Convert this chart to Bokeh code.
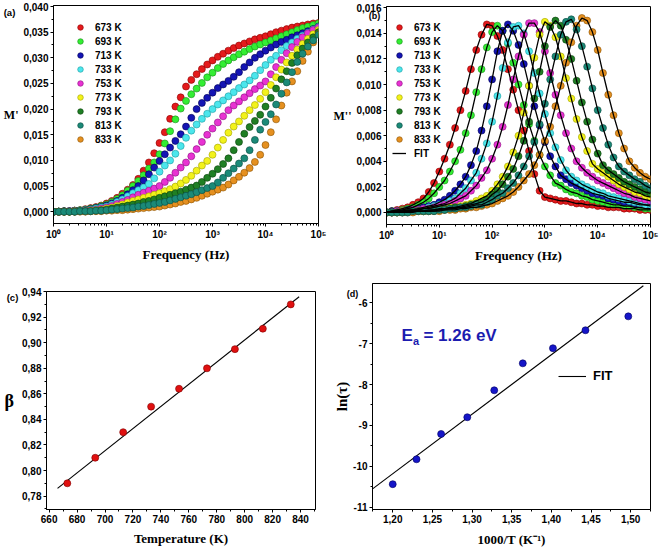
from bokeh.plotting import figure
from bokeh.models import (FixedTicker, CustomJSTickFormatter, Legend, LegendItem,
                          Label, Range1d)
from bokeh.layouts import row, column
from bokeh.embed import file_html
from bokeh.resources import INLINE

# ---------------- data ----------------
temp_labels = ["673 K", "693 K", "713 K", "733 K", "753 K", "773 K", "793 K", "813 K", "833 K"]

freq = [1, 1.259, 1.585, 1.995, 2.512, 3.162, 3.981, 5.012, 6.31, 7.943,
        10, 12.59, 15.85, 19.95, 25.12, 31.62, 39.81, 50.12, 63.1, 79.43,
        100, 125.9, 158.5, 199.5, 251.2, 316.2, 398.1, 501.2, 631, 794.3,
        1000, 1259, 1585, 1995, 2512, 3162, 3981, 5012, 6310, 7943,
        10000, 12589, 15849, 19953, 25119, 31623, 39811, 50119, 63096, 79433,
        100000]

# M' (panel a)
m1_673 = [0.0000, 0.0000, 0.0001, 0.0001, 0.0002, 0.0003, 0.0005, 0.0007, 0.0009, 0.0012,
          0.0016, 0.0021, 0.0027, 0.0035, 0.0043, 0.0052, 0.0064, 0.0080, 0.0096, 0.0114,
          0.0134, 0.0155, 0.0181, 0.0205, 0.0223, 0.0244, 0.0257, 0.0268, 0.0278, 0.0287,
          0.0295, 0.0302, 0.0308, 0.0314, 0.0319, 0.0324, 0.0328, 0.0332, 0.0336, 0.0339,
          0.0342, 0.0346, 0.0350, 0.0353, 0.0356, 0.0359, 0.0361, 0.0363, 0.0365, 0.0367,
          0.0368]
m1_693 = [0.0000, 0.0000, 0.0001, 0.0001, 0.0002, 0.0003, 0.0004, 0.0006, 0.0008, 0.0011,
          0.0014, 0.0019, 0.0025, 0.0032, 0.0041, 0.0050, 0.0060, 0.0071, 0.0084, 0.0096,
          0.0112, 0.0133, 0.0157, 0.0180, 0.0201, 0.0216, 0.0229, 0.0240, 0.0251, 0.0262,
          0.0271, 0.0280, 0.0288, 0.0295, 0.0301, 0.0307, 0.0312, 0.0317, 0.0322, 0.0326,
          0.0330, 0.0334, 0.0338, 0.0342, 0.0346, 0.0350, 0.0354, 0.0358, 0.0361, 0.0364,
          0.0367]
m1_713 = [0.0000, 0.0000, 0.0001, 0.0001, 0.0002, 0.0002, 0.0003, 0.0005, 0.0007, 0.0009,
          0.0012, 0.0016, 0.0021, 0.0027, 0.0034, 0.0042, 0.0050, 0.0061, 0.0073, 0.0086,
          0.0099, 0.0112, 0.0125, 0.0138, 0.0151, 0.0166, 0.0183, 0.0200, 0.0212, 0.0222,
          0.0232, 0.0241, 0.0248, 0.0255, 0.0263, 0.0272, 0.0282, 0.0291, 0.0300, 0.0307,
          0.0314, 0.0320, 0.0326, 0.0331, 0.0335, 0.0340, 0.0344, 0.0348, 0.0352, 0.0356,
          0.0361]
m1_733 = [0.0000, 0.0000, 0.0000, 0.0001, 0.0001, 0.0002, 0.0003, 0.0004, 0.0006, 0.0008,
          0.0010, 0.0014, 0.0019, 0.0024, 0.0030, 0.0036, 0.0042, 0.0047, 0.0054, 0.0065,
          0.0078, 0.0090, 0.0100, 0.0113, 0.0128, 0.0144, 0.0158, 0.0170, 0.0181, 0.0191,
          0.0200, 0.0209, 0.0217, 0.0225, 0.0233, 0.0241, 0.0248, 0.0256, 0.0265, 0.0276,
          0.0286, 0.0296, 0.0304, 0.0315, 0.0323, 0.0330, 0.0337, 0.0343, 0.0349, 0.0355,
          0.0360]
m1_753 = [0.0000, 0.0000, 0.0000, 0.0001, 0.0001, 0.0001, 0.0002, 0.0003, 0.0004, 0.0006,
          0.0008, 0.0011, 0.0015, 0.0019, 0.0023, 0.0028, 0.0033, 0.0037, 0.0041, 0.0045,
          0.0050, 0.0058, 0.0066, 0.0076, 0.0086, 0.0096, 0.0108, 0.0122, 0.0136, 0.0150,
          0.0162, 0.0174, 0.0186, 0.0198, 0.0207, 0.0215, 0.0223, 0.0231, 0.0239, 0.0246,
          0.0254, 0.0268, 0.0282, 0.0296, 0.0309, 0.0321, 0.0331, 0.0340, 0.0348, 0.0354,
          0.0359]
m1_773 = [0.0000, 0.0000, 0.0000, 0.0000, 0.0001, 0.0001, 0.0001, 0.0002, 0.0003, 0.0004,
          0.0006, 0.0008, 0.0011, 0.0014, 0.0018, 0.0021, 0.0024, 0.0027, 0.0030, 0.0033,
          0.0036, 0.0040, 0.0044, 0.0049, 0.0055, 0.0062, 0.0070, 0.0080, 0.0090, 0.0099,
          0.0111, 0.0125, 0.0140, 0.0154, 0.0166, 0.0176, 0.0187, 0.0198, 0.0208, 0.0220,
          0.0233, 0.0247, 0.0262, 0.0277, 0.0291, 0.0304, 0.0316, 0.0327, 0.0337, 0.0346,
          0.0354]
m1_793 = [0.0000, 0.0000, 0.0000, 0.0000, 0.0000, 0.0001, 0.0001, 0.0001, 0.0002, 0.0003,
          0.0004, 0.0006, 0.0008, 0.0010, 0.0012, 0.0014, 0.0016, 0.0019, 0.0021, 0.0024,
          0.0027, 0.0030, 0.0033, 0.0036, 0.0039, 0.0043, 0.0047, 0.0051, 0.0058, 0.0066,
          0.0074, 0.0083, 0.0093, 0.0104, 0.0120, 0.0136, 0.0152, 0.0165, 0.0177, 0.0189,
          0.0205, 0.0222, 0.0240, 0.0258, 0.0274, 0.0290, 0.0305, 0.0318, 0.0330, 0.0340,
          0.0350]
m1_813 = [0.0000, 0.0000, 0.0000, 0.0000, 0.0000, 0.0001, 0.0001, 0.0001, 0.0002, 0.0002,
          0.0003, 0.0004, 0.0005, 0.0006, 0.0007, 0.0008, 0.0010, 0.0011, 0.0013, 0.0015,
          0.0017, 0.0019, 0.0022, 0.0025, 0.0028, 0.0031, 0.0034, 0.0038, 0.0042, 0.0046,
          0.0050, 0.0057, 0.0066, 0.0075, 0.0084, 0.0094, 0.0104, 0.0120, 0.0140, 0.0160,
          0.0175, 0.0190, 0.0209, 0.0230, 0.0252, 0.0272, 0.0292, 0.0308, 0.0322, 0.0334,
          0.0345]
m1_833 = [0.0000, 0.0000, 0.0000, 0.0000, 0.0000, 0.0000, 0.0000, 0.0001, 0.0001, 0.0001,
          0.0002, 0.0002, 0.0003, 0.0003, 0.0004, 0.0005, 0.0006, 0.0007, 0.0008, 0.0009,
          0.0010, 0.0012, 0.0014, 0.0016, 0.0019, 0.0021, 0.0024, 0.0027, 0.0031, 0.0035,
          0.0039, 0.0043, 0.0047, 0.0053, 0.0061, 0.0068, 0.0076, 0.0085, 0.0097, 0.0111,
          0.0130, 0.0155, 0.0180, 0.0207, 0.0232, 0.0254, 0.0274, 0.0294, 0.0312, 0.0330,
          0.0346]

# M'' (panel b)
m2_673 = [0.0000, 0.0001, 0.0002, 0.0003, 0.0004, 0.0006, 0.0008, 0.0011, 0.0016, 0.0023,
          0.0032, 0.0042, 0.0053, 0.0066, 0.0080, 0.0095, 0.0112, 0.0127, 0.0139, 0.0147,
          0.0146, 0.0138, 0.0127, 0.0112, 0.0096, 0.0080, 0.0064, 0.0048, 0.0030, 0.0017,
          0.0012, 0.0011, 0.0010, 0.0009, 0.0009, 0.0008, 0.0007, 0.0007, 0.0006, 0.0006,
          0.0005, 0.0005, 0.0004, 0.0004, 0.0004, 0.0003, 0.0003, 0.0003, 0.0002, 0.0002,
          0.0002]
m2_693 = [0.0000, 0.0001, 0.0001, 0.0002, 0.0003, 0.0004, 0.0006, 0.0008, 0.0011, 0.0015,
          0.0020, 0.0025, 0.0032, 0.0040, 0.0049, 0.0062, 0.0076, 0.0094, 0.0112, 0.0129,
          0.0141, 0.0146, 0.0142, 0.0132, 0.0117, 0.0100, 0.0084, 0.0069, 0.0056, 0.0045,
          0.0036, 0.0029, 0.0023, 0.0021, 0.0018, 0.0016, 0.0015, 0.0013, 0.0012, 0.0010,
          0.0009, 0.0008, 0.0007, 0.0006, 0.0006, 0.0005, 0.0005, 0.0004, 0.0004, 0.0003,
          0.0003]
m2_713 = [0.0000, 0.0001, 0.0001, 0.0001, 0.0002, 0.0002, 0.0003, 0.0004, 0.0005, 0.0006,
          0.0008, 0.0010, 0.0013, 0.0017, 0.0022, 0.0028, 0.0037, 0.0048, 0.0064, 0.0083,
          0.0104, 0.0126, 0.0142, 0.0147, 0.0142, 0.0131, 0.0116, 0.0099, 0.0083, 0.0068,
          0.0055, 0.0044, 0.0036, 0.0029, 0.0026, 0.0023, 0.0021, 0.0019, 0.0017, 0.0015,
          0.0014, 0.0013, 0.0011, 0.0010, 0.0009, 0.0008, 0.0008, 0.0007, 0.0006, 0.0006,
          0.0005]
m2_733 = [0.0000, 0.0000, 0.0001, 0.0001, 0.0001, 0.0002, 0.0002, 0.0003, 0.0004, 0.0005,
          0.0006, 0.0007, 0.0009, 0.0011, 0.0015, 0.0019, 0.0025, 0.0031, 0.0042, 0.0054,
          0.0071, 0.0091, 0.0113, 0.0133, 0.0145, 0.0146, 0.0140, 0.0126, 0.0109, 0.0093,
          0.0077, 0.0062, 0.0051, 0.0041, 0.0033, 0.0028, 0.0025, 0.0022, 0.0020, 0.0018,
          0.0016, 0.0015, 0.0013, 0.0012, 0.0011, 0.0010, 0.0009, 0.0008, 0.0007, 0.0006,
          0.0006]
m2_753 = [0.0000, 0.0000, 0.0001, 0.0001, 0.0001, 0.0002, 0.0002, 0.0003, 0.0003, 0.0004,
          0.0005, 0.0006, 0.0007, 0.0009, 0.0011, 0.0013, 0.0017, 0.0021, 0.0027, 0.0033,
          0.0042, 0.0053, 0.0067, 0.0084, 0.0104, 0.0122, 0.0139, 0.0148, 0.0148, 0.0141,
          0.0126, 0.0109, 0.0092, 0.0076, 0.0062, 0.0050, 0.0040, 0.0035, 0.0031, 0.0028,
          0.0025, 0.0023, 0.0021, 0.0019, 0.0017, 0.0015, 0.0014, 0.0012, 0.0011, 0.0010,
          0.0009]
m2_773 = [0.0000, 0.0000, 0.0000, 0.0001, 0.0001, 0.0001, 0.0001, 0.0001, 0.0002, 0.0002,
          0.0003, 0.0003, 0.0004, 0.0004, 0.0005, 0.0006, 0.0007, 0.0009, 0.0011, 0.0013,
          0.0017, 0.0022, 0.0028, 0.0036, 0.0047, 0.0060, 0.0078, 0.0099, 0.0121, 0.0139,
          0.0149, 0.0146, 0.0137, 0.0122, 0.0105, 0.0089, 0.0073, 0.0059, 0.0048, 0.0038,
          0.0034, 0.0031, 0.0028, 0.0025, 0.0022, 0.0020, 0.0018, 0.0016, 0.0015, 0.0013,
          0.0012]
m2_793 = [0.0000, 0.0000, 0.0000, 0.0000, 0.0001, 0.0001, 0.0001, 0.0001, 0.0001, 0.0002,
          0.0002, 0.0003, 0.0003, 0.0004, 0.0004, 0.0005, 0.0006, 0.0007, 0.0008, 0.0010,
          0.0014, 0.0017, 0.0022, 0.0028, 0.0034, 0.0044, 0.0056, 0.0071, 0.0089, 0.0110,
          0.0130, 0.0145, 0.0150, 0.0146, 0.0135, 0.0120, 0.0103, 0.0086, 0.0071, 0.0057,
          0.0046, 0.0037, 0.0033, 0.0030, 0.0027, 0.0024, 0.0022, 0.0020, 0.0018, 0.0016,
          0.0015]
m2_813 = [0.0000, 0.0000, 0.0000, 0.0000, 0.0000, 0.0001, 0.0001, 0.0001, 0.0001, 0.0001,
          0.0002, 0.0002, 0.0003, 0.0003, 0.0004, 0.0004, 0.0005, 0.0006, 0.0006, 0.0008,
          0.0010, 0.0013, 0.0015, 0.0019, 0.0023, 0.0029, 0.0036, 0.0044, 0.0055, 0.0069,
          0.0085, 0.0104, 0.0122, 0.0139, 0.0149, 0.0151, 0.0143, 0.0130, 0.0114, 0.0097,
          0.0080, 0.0066, 0.0053, 0.0043, 0.0036, 0.0032, 0.0029, 0.0026, 0.0024, 0.0021,
          0.0019]
m2_833 = [0.0000, 0.0000, 0.0000, 0.0000, 0.0000, 0.0000, 0.0001, 0.0001, 0.0001, 0.0001,
          0.0001, 0.0002, 0.0002, 0.0002, 0.0003, 0.0003, 0.0004, 0.0004, 0.0005, 0.0006,
          0.0007, 0.0009, 0.0011, 0.0013, 0.0016, 0.0020, 0.0025, 0.0030, 0.0037, 0.0045,
          0.0056, 0.0067, 0.0083, 0.0099, 0.0117, 0.0133, 0.0146, 0.0152, 0.0150, 0.0141,
          0.0127, 0.0109, 0.0092, 0.0076, 0.0062, 0.0050, 0.0040, 0.0035, 0.0031, 0.0028,
          0.0026]

# panel c
temps = [673, 693, 713, 733, 753, 773, 793, 813, 833]
beta = [0.790, 0.810, 0.830, 0.850, 0.864, 0.880, 0.895, 0.911, 0.930]
beta_fit_T = [666, 839]
beta_fit = [0.786, 0.936]

# panel d
inv_T = [1.200, 1.230, 1.261, 1.294, 1.328, 1.364, 1.402, 1.443, 1.497]
ln_tau = [-10.44, -9.83, -9.21, -8.80, -8.14, -7.48, -7.11, -6.67, -6.33]
tau_fit_x = [1.175, 1.516]
tau_fit_y = [-10.55, -5.58]

M1 = [m1_673, m1_693, m1_713, m1_733, m1_753, m1_773, m1_793, m1_813, m1_833]
M2 = [m2_673, m2_693, m2_713, m2_733, m2_753, m2_773, m2_793, m2_813, m2_833]

# ---------------- style ----------------
COLORS = ["#e41a1c", "#33ee33", "#1414b4", "#4be6ec", "#e832d2",
          "#f2f21a", "#1f7f24", "#1b8a78", "#e59020"]
EDGES = ["#8b0000", "#1a8a1a", "#000050", "#1a9aa0", "#8a1080",
         "#a0a000", "#0a400c", "#0a4a40", "#8a5000"]
SANS = "Liberation Sans"
SERIF = "Liberation Serif"
DRAW_ORDER = [0, 1, 2, 3, 4, 5, 6, 8, 7]


def base_fig(w, h, xr, yr, borders, x_log=False):
    l, r, t, b = borders
    p = figure(width=w, height=h, x_range=Range1d(*xr), y_range=Range1d(*yr),
               x_axis_type="log" if x_log else "linear",
               output_backend="svg", toolbar_location=None,
               min_border_left=l, min_border_right=r,
               min_border_top=t, min_border_bottom=b)
    try:
        p.frame_align = False
    except Exception:
        pass
    p.xgrid.visible = False
    p.ygrid.visible = False
    p.outline_line_color = "black"
    p.outline_line_alpha = 1
    p.outline_line_width = 1
    p.background_fill_color = "white"
    p.border_fill_color = "white"
    for ax in list(p.xaxis) + list(p.yaxis):
        ax.axis_line_color = "black"
        ax.axis_line_width = 1
        ax.major_tick_out = 3
        ax.major_tick_in = 0
        ax.minor_tick_out = 2
        ax.minor_tick_in = 0
        ax.major_tick_line_color = "black"
        ax.minor_tick_line_color = "black"
        ax.major_label_text_font = SANS
        ax.major_label_text_font_style = "bold"
        ax.major_label_text_font_size = "10px"
        ax.major_label_text_color = "black"
        ax.major_label_standoff = 2
        ax.axis_label_text_font = SERIF
        ax.axis_label_text_font_style = "bold"
        ax.axis_label_text_font_size = "13px"
        ax.axis_label_text_color = "black"
    return p


def comma_fmt(decimals):
    return CustomJSTickFormatter(
        code="return tick.toFixed(%d).replace('.', ',');" % decimals)


log_fmt = CustomJSTickFormatter(code="""
const sup = ['\u2070','\u00b9','\u00b2','\u00b3','\u2074','\u2075','\u2076','\u2077','\u2078','\u2079'];
const e = Math.round(Math.log10(tick));
return '10' + sup[e];
""")

log_major = [1, 10, 100, 1000, 10000, 100000]
log_minor = [m * 10 ** e for e in range(5) for m in range(2, 10)]


def panel_letter(p, txt, cx, cy, size="9.5px"):
    # panel letter: placed through the (otherwise empty) right side panel,
    # positioned in canvas coordinates at the top-left of the figure
    lab = Label(x=cx, y=cy, x_units="canvas", y_units="canvas", text=txt,
                text_font=SANS, text_font_style="bold", text_font_size=size,
                text_align="center", text_baseline="middle", text_color="black")
    p.add_layout(lab, "right")


def make_legend(items, loc, standoff=8):
    return Legend(items=items, location=loc, glyph_width=14, glyph_height=14,
                  label_height=14, label_width=20, spacing=0, padding=0, margin=0,
                  label_standoff=standoff, border_line_alpha=0, background_fill_alpha=0,
                  label_text_font=SANS, label_text_font_style="bold",
                  label_text_font_size="10px", label_text_color="black")


# ---------------- panel (a) ----------------
pa = base_fig(330, 270, (1, 1e5), (-0.0023, 0.0402), (52, 11, 5, 47), x_log=True)
pa.xaxis.ticker = FixedTicker(ticks=log_major, minor_ticks=log_minor)
pa.xaxis.formatter = log_fmt
pa.yaxis.ticker = FixedTicker(ticks=[round(i * 0.005, 3) for i in range(9)],
                              minor_ticks=[round(0.0025 + i * 0.005, 4) for i in range(8)])
pa.yaxis.formatter = comma_fmt(3)
pa.xaxis.axis_label = "Frequency (Hz)"
pa.xaxis.axis_label_standoff = 4
pa.yaxis.axis_label = "M'"
pa.yaxis.axis_label_orientation = "horizontal"
pa.yaxis.axis_label_standoff = 2
pa.yaxis.axis_label_text_font_size = "12px"
ra = {}
for i in DRAW_ORDER:
    ra[i] = pa.scatter(freq, M1[i], size=7, fill_color=COLORS[i], line_color=EDGES[i],
                       line_width=0.6)
pa.add_layout(make_legend([LegendItem(label=temp_labels[i], renderers=[ra[i]])
                           for i in range(9)], (20, 77)))
panel_letter(pa, "(a)", 9, 12)

# ---------------- panel (b) ----------------
pb = base_fig(331, 270, (1, 1e5), (-0.00094, 0.0161), (55, 9, 6, 46), x_log=True)
pb.xaxis.ticker = FixedTicker(ticks=log_major, minor_ticks=log_minor)
pb.xaxis.formatter = log_fmt
pb.yaxis.ticker = FixedTicker(ticks=[round(i * 0.002, 3) for i in range(9)],
                              minor_ticks=[round(0.001 + i * 0.002, 3) for i in range(8)])
pb.yaxis.formatter = comma_fmt(3)
pb.xaxis.axis_label = "Frequency (Hz)"
pb.xaxis.axis_label_standoff = 4
pb.yaxis.axis_label = "M''"
pb.yaxis.axis_label_orientation = "horizontal"
pb.yaxis.axis_label_standoff = 2
pb.yaxis.axis_label_text_font_size = "12px"
rb = {}
for i in DRAW_ORDER:
    rb[i] = pb.scatter(freq, M2[i], size=7, fill_color=COLORS[i], line_color=EDGES[i],
                       line_width=0.6)
fit_r = None
for i in range(9):
    fit_r = pb.line(freq, M2[i], line_color="black", line_width=1.3)
items_b = [LegendItem(label=temp_labels[i], renderers=[rb[i]]) for i in range(9)]
items_b.append(LegendItem(label="FIT", renderers=[fit_r]))
pb.add_layout(make_legend(items_b, (6, 64)))
panel_letter(pb, "(b)", 44, 15, "9px")

# ---------------- panel (c) ----------------
pc = base_fig(330, 281, (658.1, 850.7), (0.7695, 0.9401), (46, 15, 21, 42))
pc.xaxis.ticker = FixedTicker(ticks=list(range(660, 841, 20)),
                              minor_ticks=list(range(670, 851, 20)))
pc.yaxis.ticker = FixedTicker(ticks=[round(0.78 + 0.02 * i, 2) for i in range(9)],
                              minor_ticks=[round(0.77 + 0.02 * i, 2) for i in range(9)])
pc.yaxis.formatter = comma_fmt(2)
pc.xaxis.axis_label = "Temperature (K)"
pc.xaxis.axis_label_standoff = 5
pc.yaxis.axis_label = "\u03b2"
pc.yaxis.axis_label_orientation = "horizontal"
pc.yaxis.axis_label_text_font_size = "18px"
pc.yaxis.axis_label_standoff = 5
pc.line(beta_fit_T, beta_fit, line_color="black", line_width=1.1)
pc.scatter(temps, beta, size=7, fill_color="#e01010", line_color="#800000", line_width=0.6)
panel_letter(pc, "(c)", 12, 27)

# ---------------- panel (d) ----------------
pd = base_fig(331, 281, (1.1745, 1.525), (-11.06, -5.525), (42, 9, 13, 42))
pd.xaxis.ticker = FixedTicker(ticks=[round(1.20 + 0.05 * i, 2) for i in range(7)],
                              minor_ticks=[round(1.175 + 0.05 * i, 3) for i in range(8)])
pd.xaxis.formatter = comma_fmt(2)
pd.yaxis.ticker = FixedTicker(ticks=[-11, -10, -9, -8, -7, -6],
                              minor_ticks=[-10.5, -9.5, -8.5, -7.5, -6.5, -5.5])
pd.yaxis.formatter = CustomJSTickFormatter(code="return tick.toFixed(0);")
pd.xaxis.axis_label = "1000/T (K\u207b\u00b9)"
pd.xaxis.axis_label_standoff = 6
pd.yaxis.axis_label = "ln(\u03c4)"
pd.yaxis.axis_label_text_font_size = "15px"
pd.yaxis.axis_label_standoff = 0
fit_d = pd.line(tau_fit_x, tau_fit_y, line_color="black", line_width=1.1)
pd.scatter(inv_T, ln_tau, size=7, fill_color="#1515c8", line_color="#000060", line_width=0.6)
leg_d = Legend(items=[LegendItem(label="FIT", renderers=[fit_d])], location=(186, 126),
               glyph_width=28, glyph_height=14, label_height=14, spacing=0, padding=0,
               margin=0, label_standoff=7, border_line_alpha=0, background_fill_alpha=0,
               label_text_font=SANS, label_text_font_style="bold",
               label_text_font_size="13px", label_text_color="black")
pd.add_layout(leg_d)
EA_COLOR = "#1c1cb0"
pd.add_layout(Label(x=1.211, y=-6.79, text="E", text_font=SANS, text_font_style="bold",
                    text_font_size="17px", text_color=EA_COLOR, text_baseline="middle"))
pd.add_layout(Label(x=1.211, y=-6.79, x_offset=11.5, y_offset=-6, text="a", text_font=SANS,
                    text_font_style="bold", text_font_size="11px", text_color=EA_COLOR,
                    text_baseline="middle"))
pd.add_layout(Label(x=1.211, y=-6.79, x_offset=22, text="= 1.26 eV", text_font=SANS,
                    text_font_style="bold", text_font_size="17px", text_color=EA_COLOR,
                    text_baseline="middle"))
panel_letter(pd, "(d)", 22, 23, "9px")

layout = column(row(pa, pb), row(pc, pd))
with open("out.html", "w", encoding="utf-8") as f:
    f.write(file_html(layout, INLINE))
